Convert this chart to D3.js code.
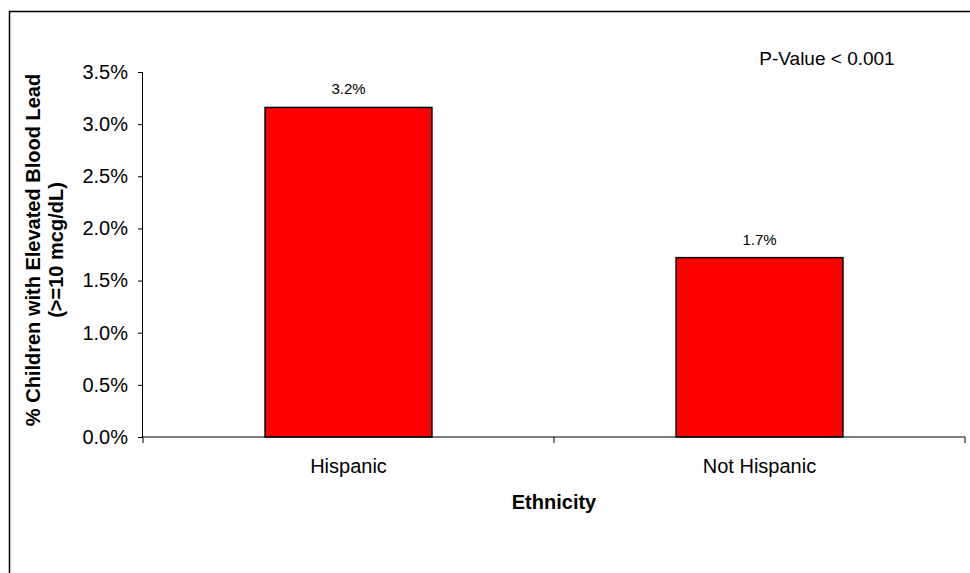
<!DOCTYPE html>
<html><head><meta charset="utf-8">
<script src="https://cdn.jsdelivr.net/npm/d3@7"></script>
<style>
body{margin:0;background:#fff;}
text{font-family:Arial,"Liberation Sans",sans-serif;fill:#000;}
</style></head>
<body><svg id="c" width="970" height="573"></svg>
<script>
const categories = ["Hispanic", "Not Hispanic"];
const values = [0.0316, 0.0172];
const valueLabels = ["3.2%", "1.7%"];
const yTicks = [0, 0.005, 0.01, 0.015, 0.02, 0.025, 0.03, 0.035];
const yTitle = ["% Children with Elevated Blood Lead", "(>=10 mcg/dL)"];
const xTitle = "Ethnicity";
const note = "P-Value < 0.001";

const svg = d3.select("#c");
svg.append("rect").attr("x", 9.5).attr("y", 11.5).attr("width", 980).attr("height", 600)
  .attr("fill", "#fff").attr("stroke", "#000").attr("stroke-width", 1.5);

const x0 = 143, x1 = 965, y0 = 437, y1 = 72;
const x = d3.scaleBand().domain(categories).range([x0, x1]).paddingInner(0.594).paddingOuter(0.297);
const y = d3.scaleLinear().domain([0, 0.035]).range([y0, y1]);

// bars
svg.selectAll("rect.bar").data(values).join("rect").attr("class", "bar")
  .attr("x", (d, i) => x(categories[i]))
  .attr("y", d => y(d))
  .attr("width", x.bandwidth())
  .attr("height", d => y(0) - y(d))
  .attr("fill", "#ff0000").attr("stroke", "#000").attr("stroke-width", 1.5);

// y axis
const ya = svg.append("g").attr("transform", `translate(${x0},0)`)
  .call(d3.axisLeft(y).tickValues(yTicks).tickFormat(d3.format(".1%")).tickSize(5).tickPadding(10));
ya.select(".domain").attr("stroke", "#000").attr("d", `M-0.5,${y1}V${y0}`);
ya.selectAll("line").attr("stroke", "#000");
ya.selectAll("text").style("font-size", "20px");

// x axis
const xa = svg.append("g").attr("transform", `translate(0,${y0})`);
xa.append("line").attr("x1", x0).attr("x2", x1).attr("stroke", "#000");
const bounds = [x0, (x0 + x1) / 2, x1];
xa.selectAll("line.t").data(bounds).join("line").attr("class", "t")
  .attr("x1", d => d).attr("x2", d => d).attr("y1", 0).attr("y2", 6).attr("stroke", "#000");
xa.selectAll("text.c").data(categories).join("text").attr("class", "c")
  .attr("x", d => x(d) + x.bandwidth() / 2).attr("y", 36)
  .attr("text-anchor", "middle").style("font-size", "20px").text(d => d);

// value labels
svg.selectAll("text.v").data(values).join("text").attr("class", "v")
  .attr("x", (d, i) => x(categories[i]) + x.bandwidth() / 2)
  .attr("y", d => y(d) - 13)
  .attr("text-anchor", "middle").style("font-size", "15px")
  .text((d, i) => valueLabels[i]);

// titles
svg.append("text").attr("x", (x0 + x1) / 2).attr("y", 509).attr("text-anchor", "middle")
  .style("font-size", "20px").style("font-weight", "bold").text(xTitle);
const yt = svg.append("text").attr("transform", "translate(40,250) rotate(-90)")
  .attr("text-anchor", "middle").style("font-size", "20px").style("font-weight", "bold");
yTitle.forEach((t, i) => yt.append("tspan").attr("x", 0).attr("dy", i === 0 ? 0 : 23).text(t));

svg.append("text").attr("x", 827).attr("y", 65).attr("text-anchor", "middle")
  .style("font-size", "19px").text(note);
</script></body></html>
